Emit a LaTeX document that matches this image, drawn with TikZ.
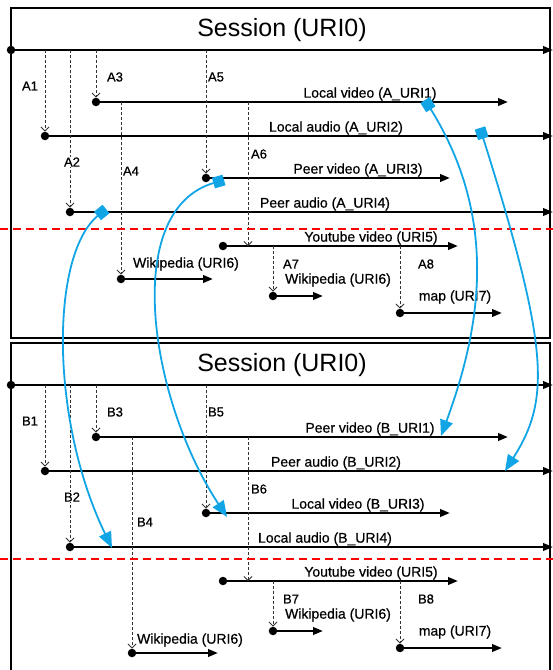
\documentclass[tikz,border=0pt]{standalone}
\usepackage{fontspec}
\setmainfont{Liberation Sans}
\newfontfamily\lblfont{Liberation Sans}[FakeBold=0.6]
\usetikzlibrary{arrows.meta}
\definecolor{linkblue}{RGB}{17,165,230}

\begin{document}
\begin{tikzpicture}[
        x=1pt, y=-1pt,
        point/.style={circle, fill=black, minimum size=8.5pt, inner sep=0pt},
        stream/.style={line width=2.3pt, -{Triangle[length=10pt,width=7.5pt]}},
        spawn/.style={densely dashed, line width=0.8pt, black!80, -{Straight Barb[length=4pt,width=8pt]}},
        link/.style={line width=1.8pt, linkblue, {Square[length=11pt,width=11pt]}-{Triangle[length=16pt,width=13pt]}},
        split/.style={red, line width=1.3pt, dash pattern=on 8pt off 5pt},
        panel/.style={line width=1.8pt},
        tag/.style={font=\lblfont\fontsize{13}{15}\selectfont, fill=white, inner sep=0.5pt},
        every node/.style={font=\lblfont\fontsize{14}{16}\selectfont, inner sep=1pt}
        ]
        \useasboundingbox (0,0) rectangle (553,670);
        \foreach \p/\dy/\ra/\rb/\wx/\wy/\we/\tx/\ty/\lx/\ly in {A/0/Local/Peer/121/279/213/131/171/186/264, B/335/Peer/Local/132/318/218/145/187/190/305} {
            \begin{scope}[yshift=-\dy pt]
                \draw[panel] (11,8) rectangle (550,338);
                \node[font=\rmfamily\fontsize{25}{30}\selectfont] (\p title) at (282,30) {Session (URI0)};
                \foreach \i/\x/\y/\e in {0/11/50/553, 1/45/136/553, 2/70/212/553, 3/96/102/508, 4/\wx/\wy/\we, 5/206/178/450, 6/223/246/458, 7/273/296/323, 8/400/313/502} {
                    \node[point] (\p\i) at (\x,\y) {};
                    \draw[stream] (\p\i) -- (\e,\y);
                }
                \coordinate (\p c) at (248,102);
                \foreach \i/\j in {1/0, 2/0, 3/0, 4/3, 5/0, 7/6, 8/6}
                    \draw[spawn] (\p\i |- \p\j) -- (\p\i);
                \draw[spawn] (\p c) -- (\p c |- \p6);
                \foreach \i/\x/\y in {1/30/86, 2/72/162, 3/115/77, 4/\tx/\ty, 5/216/77, 6/259/154, 7/291/264, 8/426/264}
                    \node[tag] (\p t\i) at (\x,\y) {\p\i};
                \foreach \i/\x/\y/\t in {1/370/94/{\ra{} video (\p\_URI1)}, 2/336/128/{\ra{} audio (\p\_URI2)}, 3/358/170/{\rb{} video (\p\_URI3)}, 4/325/204/{\rb{} audio (\p\_URI4)}, 5/371/238/{Youtube video (URI5)}, 6/\lx/\ly/{Wikipedia (URI6)}, 7/338/280/{Wikipedia (URI6)}, 8/455/297/{map (URI7)}}
                    \node (\p l\i) at (\x,\y) {\t};
            \end{scope}
        }
        \draw[split] (0,229) -- (553,229);
        \draw[split] (0,559) -- (553,559);
        \coordinate (uA1) at (425,100);
        \coordinate (uA2) at (480,128);
        \coordinate (uA3) at (224,180);
        \coordinate (uA4) at (106,209);
        \coordinate (uB1) at (441,436);
        \coordinate (uB2) at (505,471);
        \coordinate (uB3) at (227,517);
        \coordinate (uB4) at (112,548);
        \draw[link] (uA1) .. controls (500,220) and (480,330) .. (uB1);
        \draw[link] (uA2) .. controls (550,350) and (550,400) .. (uB2);
        \draw[link] (uA3) .. controls (120,210) and (150,400) .. (uB3);
        \draw[link] (uA4) .. controls (50,255) and (50,420) .. (uB4);
\end{tikzpicture}
\end{document}
